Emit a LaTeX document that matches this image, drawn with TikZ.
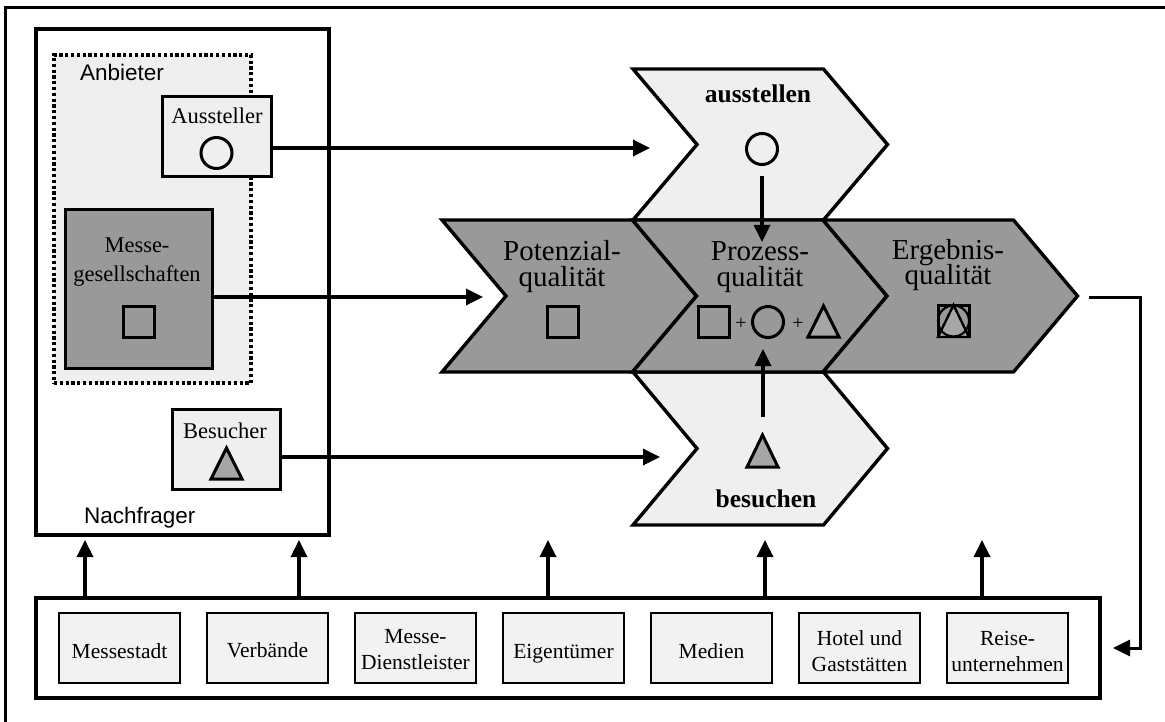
\documentclass[tikz,border=0pt]{standalone}
\usepackage{fontspec}
\setmainfont{Liberation Serif}
\newfontfamily\grotesk{Liberation Sans}
\usetikzlibrary{arrows.meta}

\definecolor{hell}{HTML}{EFEFEF}
\definecolor{dunkel}{HTML}{999999}
\definecolor{mittel}{HTML}{A6A6A6}
\definecolor{boxgrau}{HTML}{F2F2F2}

% two centred lines, baseline of the node = baseline of the first line
\newcommand\zweizeilig[2]{\begin{tabular}[t]{@{}c@{}}#1\\#2\end{tabular}}
\newcommand\zweizeiligeng[2]{\begin{tabular}[t]{@{}c@{}}#1\\[-3pt]#2\end{tabular}}

% chevron: left x, top y, bottom y, fill colour
\newcommand\pfeilform[4]{%
  \draw[chevron, fill=#4] (#1,#2) -- ++(190.5,0) -- ++(64,{(#3-#2)/2})
    -- ++(-64,{(#3-#2)/2}) -- ++(-190.5,0) -- ++(64,{-(#3-#2)/2}) -- cycle;}

\tikzset{
  rahmen/.style={draw, line width=3.4pt, inner sep=0pt},
  kasten/.style={draw, line width=3pt, inner sep=0pt},
  unterbox/.style={draw, line width=2.6pt, fill=boxgrau, inner sep=0pt,
    minimum width=121pt, minimum height=70pt},
  chevron/.style={draw, line width=3.4pt, line join=miter},
  pfeil/.style={line width=3.4pt, -{Triangle[length=17pt,width=16pt]}},
  kreis/.style={circle, draw, line width=3pt, minimum size=31pt, inner sep=0pt},
  quadrat/.style={rectangle, draw, line width=3pt, minimum size=31pt, inner sep=0pt},
  dreieck/.style={draw, line width=3pt, fill=mittel, line join=miter},
  sans/.style={font=\grotesk\fontsize{22.5}{27}\selectfont, inner sep=0pt},
  linkstext/.style={font=\fontsize{22.5}{28.4}\selectfont, inner sep=0pt, anchor=base},
  untertext/.style={font=\fontsize{21.5}{26}\selectfont, inner sep=0pt, anchor=base},
  titel/.style={font=\fontsize{29}{28}\selectfont, inner sep=0pt, anchor=base},
  fett/.style={font=\bfseries\fontsize{25.5}{30}\selectfont, inner sep=0pt, anchor=base},
  plus/.style={font=\fontsize{20}{24}\selectfont, inner sep=0pt, anchor=base},
}

\begin{document}
\begin{tikzpicture}[x=1pt,y=-1pt]
\useasboundingbox (0,0) rectangle (1165,722);

% outer frame
\draw[line width=3pt] (5,722) -- (5,8) -- (1165,8);

% market participants
\node[rahmen, minimum width=293pt, minimum height=506pt] (nachfrager) at (182.5,282) {};
\node[draw, line width=3.4pt, dash pattern=on 3.2pt off 2.6pt, fill=hell, inner sep=0pt,
      minimum width=197pt, minimum height=328pt] (anbieter) at (152.5,219) {};
\node[sans, anchor=base west] (anbietertext) at (80,81) {Anbieter};
\node[sans, anchor=base west] (nachfragertext) at (84,523) {Nachfrager};

\node[kasten, fill=hell, minimum width=109pt, minimum height=80pt] (aussteller) at (216.5,137) {};
\node[linkstext] (ausstellertext) at (217,124) {Aussteller};
\node[kreis] (kreisAussteller) at (216.5,153) {};

\node[kasten, fill=dunkel, minimum width=147pt, minimum height=158pt] (messeges) at (138.5,289) {};
\node[linkstext] (messegestext) at (137,253) {\zweizeilig{Messe-}{gesellschaften}};
\node[quadrat] (quadratMG) at (138.5,322) {};

\node[kasten, fill=hell, minimum width=108pt, minimum height=80pt] (besucher) at (226,449) {};
\node[linkstext] (besuchertext) at (225,438) {Besucher};
\draw[dreieck] (211,479) -- (242,479) -- (226.5,448) -- cycle;

% environment
\node[rahmen, fill=white, minimum width=1064pt, minimum height=100pt] (umfeld) at (568,648) {};
\node[unterbox] (u1) at (119.5,648) {};
\node[unterbox] (u2) at (267.5,648) {};
\node[unterbox] (u3) at (415.5,648) {};
\node[unterbox] (u4) at (563.5,648) {};
\node[unterbox] (u5) at (711.5,648) {};
\node[unterbox] (u6) at (859.5,648) {};
\node[unterbox] (u7) at (1007.5,648) {};
\node[untertext] (t1) at (119.5,658) {Messestadt};
\node[untertext] (t2) at (267.5,657) {Verbände};
\node[untertext] (t3) at (415.5,643) {\zweizeilig{Messe-}{Dienstleister}};
\node[untertext] (t4) at (563.5,658) {Eigentümer};
\node[untertext] (t5) at (711.5,658) {Medien};
\node[untertext] (t6) at (859.5,645) {\zweizeilig{Hotel und}{Gaststätten}};
\node[untertext] (t7) at (1007.5,645) {\zweizeilig{Reise-}{unternehmen}};

% chevrons
\pfeilform{633}{69}{220}{hell}
\pfeilform{633}{372}{525}{hell}
\pfeilform{442}{220}{372}{dunkel}
\pfeilform{632.5}{220}{372}{dunkel}
\pfeilform{823}{220}{372}{dunkel}

\node[fett] (ausstellen) at (758,103) {ausstellen};
\node[fett] (besuchen) at (766,507) {besuchen};
\node[titel] (potenzial) at (562,261) {\zweizeiligeng{Potenzial-}{qualität}};
\node[titel] (prozess) at (760,261) {\zweizeiligeng{Prozess-}{qualität}};
\node[titel] (ergebnis) at (948,259) {\zweizeiligeng{Ergebnis-}{qualität}};

% symbols
\node[kreis] (kreisAusstellen) at (762,149) {};
\draw[dreieck] (747,467) -- (778,467) -- (762.5,435) -- cycle;
\node[quadrat] (quadratPot) at (562.5,322) {};
\node[quadrat] (quadratPro) at (714,322) {};
\node[plus] (plus1) at (741,329) {+};
\node[kreis] (kreisPro) at (768,322) {};
\node[plus] (plus2) at (798,329) {+};
\draw[dreieck] (808,337) -- (839,337) -- (823.5,306) -- cycle;
\node[quadrat] (quadratErg) at (953.5,321) {};
\draw[dreieck, line width=2.4pt] (938,337) -- (969,337) -- (953.5,305) -- cycle;
\draw[line width=2.2pt] (953.5,321) circle[radius=15.5pt];

% connectors
\coordinate (ausziel) at (650,148);
\coordinate (potziel) at (483,297);
\coordinate (besziel) at (660,457);
\draw[pfeil] (aussteller.east |- ausziel) -- (ausziel);
\draw[pfeil] (messeges.east |- potziel) -- (potziel);
\draw[pfeil] (besucher.east |- besziel) -- (besziel);

\coordinate (prozessoben) at (762,242);
\draw[pfeil] ([yshift=-10pt]kreisAusstellen.south) -- (prozessoben);
\coordinate (besuchstart) at (763,417);
\coordinate (prozessunten) at (763,349);
\draw[pfeil] (besuchstart) -- (prozessunten);

\foreach \x/\n in {85/a,299/b,548/c,765/d,982/e}{
  \coordinate (ziel\n) at (\x,540);
  \draw[pfeil] (ziel\n |- umfeld.north) -- (ziel\n);
}

\coordinate (ergspitze) at (1089,297);
\coordinate (knick) at (1140,297);
\coordinate (umfeldein) at (1113,648);
\draw[pfeil, line width=3pt] (ergspitze) -- (knick) |- (umfeldein);
\end{tikzpicture}
\end{document}
